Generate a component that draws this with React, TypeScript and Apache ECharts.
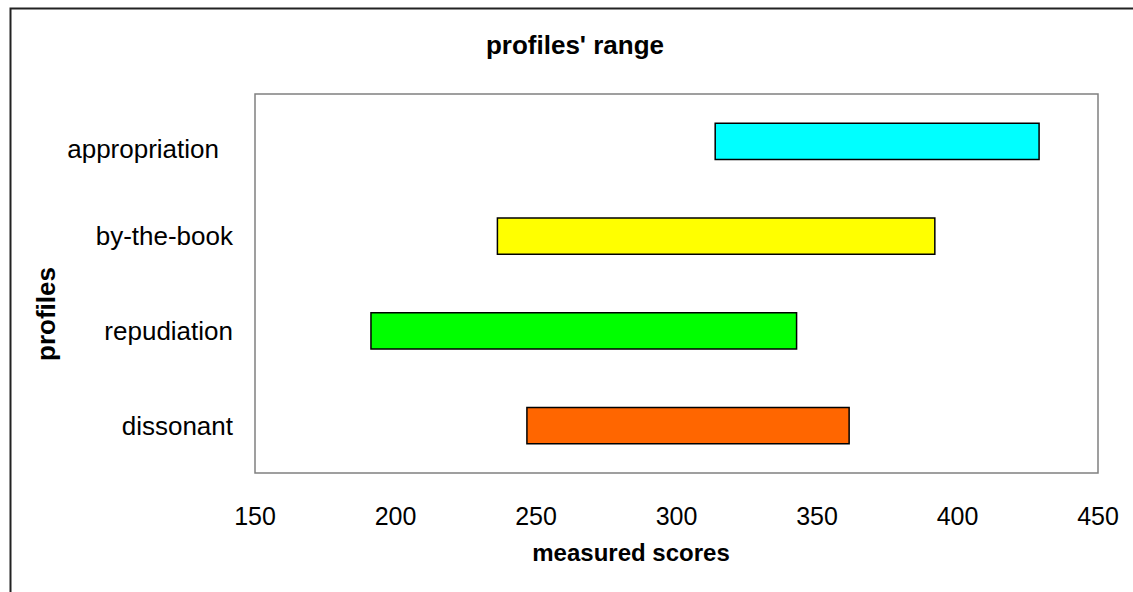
import React, { useEffect, useRef } from "react";
import * as echarts from "echarts";

const profiles = ["appropriation", "by-the-book", "repudiation", "dissonant"];
const rangeStart = [313.5, 236, 191, 246.5];
const rangeEnd = [429.3, 392.2, 343, 361.7];
const barColors = ["#00FFFF", "#FFFF00", "#00FF00", "#FF6600"];
const xTicks = { min: 150, max: 450, interval: 50 };

const FONT = "Liberation Sans, Arial, sans-serif";

export default function App() {
  const ref = useRef<HTMLDivElement>(null);
  useEffect(() => {
    if (!ref.current) return;
    const chart = echarts.init(ref.current, null, { renderer: "svg" });
    chart.setOption({
      animation: false,
      backgroundColor: "#ffffff",
      grid: {
        left: 255,
        top: 94,
        right: 35,
        bottom: 119,
        show: true,
        borderColor: "#808080",
        borderWidth: 1.5,
        backgroundColor: "transparent",
      },
      graphic: [
        {
          type: "rect",
          left: 8,
          top: 6,
          shape: { width: 1300, height: 700 },
          style: { fill: "none", stroke: "#222222", lineWidth: 2 },
          silent: true,
        },
        {
          type: "text",
          x: 575,
          y: 45,
          style: {
            text: "profiles' range",
            font: `bold 26px ${FONT}`,
            fill: "#000",
            align: "center",
            verticalAlign: "middle",
          },
        },
        {
          type: "text",
          x: 631,
          y: 552,
          style: {
            text: "measured scores",
            font: `bold 24px ${FONT}`,
            fill: "#000",
            align: "center",
            verticalAlign: "middle",
          },
        },
        {
          type: "text",
          x: 46,
          y: 314,
          rotation: Math.PI / 2,
          style: {
            text: "profiles",
            font: `bold 26px ${FONT}`,
            fill: "#000",
            align: "center",
            verticalAlign: "middle",
          },
        },
      ],
      xAxis: {
        type: "value",
        min: xTicks.min,
        max: xTicks.max,
        interval: xTicks.interval,
        splitLine: { show: false },
        axisLine: { show: false },
        axisTick: { show: false },
        axisLabel: {
          color: "#000",
          fontSize: 25,
          fontFamily: FONT,
          margin: 30,
        },
      },
      yAxis: {
        type: "category",
        data: profiles,
        inverse: true,
        axisLine: { show: false },
        axisTick: { show: false },
        axisLabel: {
          color: "#000",
          fontSize: 26,
          fontFamily: FONT,
          margin: 22,
          formatter: (v: string) => (v === profiles[0] ? `{low|${v}}` : v),
          rich: {
            low: {
              fontSize: 26,
              fontFamily: FONT,
              color: "#000",
              padding: [16, 14, 0, 0],
            },
          },
        },
      },
      series: [
        {
          type: "bar",
          stack: "range",
          data: rangeStart,
          barWidth: "40%",
          itemStyle: { color: "transparent" },
          silent: true,
        },
        {
          type: "bar",
          stack: "range",
          barWidth: "40%",
          data: rangeStart.map((s, i) => ({
            value: rangeEnd[i] - s,
            itemStyle: { color: barColors[i] },
          })),
          itemStyle: { borderColor: "#000", borderWidth: 1.5 },
        },
      ],
    });
    return () => chart.dispose();
  }, []);
  return (
    <div
      ref={ref}
      style={{ position: "fixed", left: 0, top: 0, width: 1133, height: 592 }}
    />
  );
}
